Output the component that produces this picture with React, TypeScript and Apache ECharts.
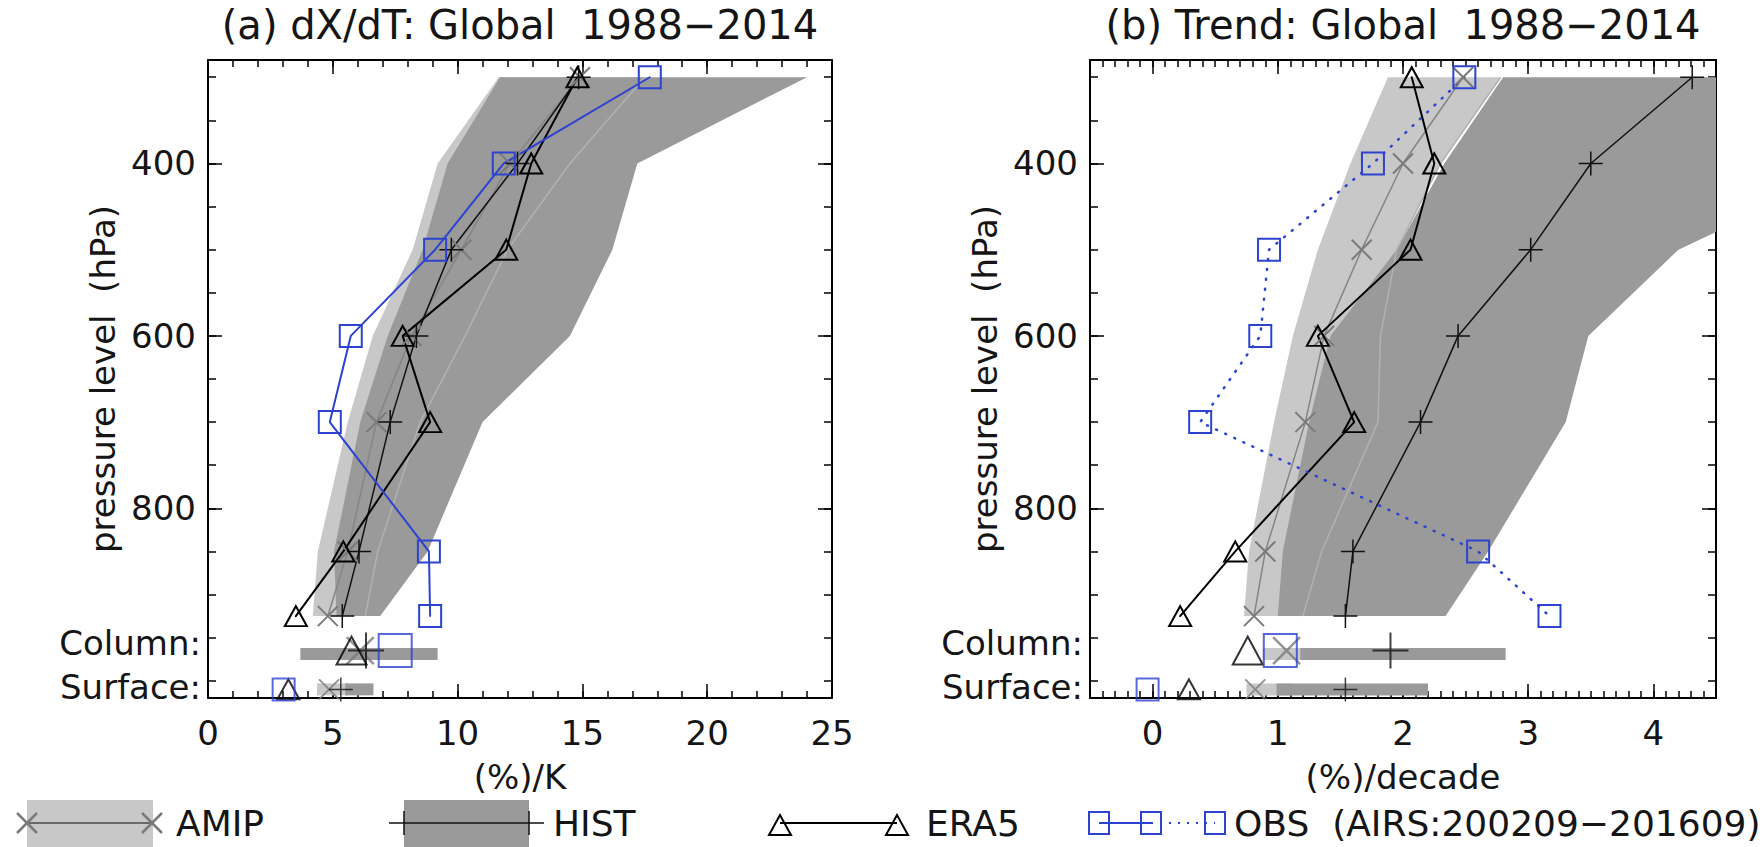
import React, { useEffect, useRef } from "react";
import * as echarts from "echarts";

// ---------- data ----------
const levels = [300, 400, 500, 600, 700, 850, 925];
const columnLevel = 965;
const surfaceLevel = 1010;
const barColumnLevel = 969;
const barSurfaceLevel = 1010;

const yMin = 280;
const yMax = 1020;
const yMinorTicks = [300, 350, 400, 450, 500, 550, 600, 650, 700, 750, 800, 850, 900, 950, 1000];
const yLabelTicks = [400, 600, 800];

const aXMajor = [0, 5, 10, 15, 20, 25];
const aXMinor = [0, 1, 2, 3, 4, 5, 6, 7, 8, 9, 10, 11, 12, 13, 14, 15, 16, 17, 18, 19, 20, 21, 22, 23, 24, 25];
const bXMajor = [0, 1, 2, 3, 4];
const bXMinor: number[] = [];
for (let i = -5; i <= 45; i++) bXMinor.push(Math.round(i) / 10);

// panel (a): dX/dT  (%)/K
const aAmip = [14.9, 12.1, 10.15, 8.15, 6.75, 5.6, 4.8];
const aHist = [14.85, 12.4, 9.75, 8.35, 7.3, 6.05, 5.38];
const aEra5 = [14.8, 12.95, 11.95, 7.8, 8.9, 5.42, 3.52];
const aObs = [17.7, 11.85, 9.1, 5.72, 4.88, 8.85, 8.9];
const aColumn = { amip: 6.1, hist: 6.33, era5: 5.75, obs: 7.5 };
const aSurface = { amip: 4.85, hist: 5.32, era5: 3.22, obs: 3.03 };
const aAmipLow = [11.65, 9.2, 8.2, 6.6, 5.6, 4.4, 4.2];
const aAmipHigh = [17.5, 14.5, 12.0, 10.3, 8.5, 6.8, 6.3];
const aHistLow = [11.7, 9.6, 8.6, 7.2, 6.1, 5.05, 5.15];
const aHistHigh = [24.0, 17.2, 16.2, 14.5, 11.0, 8.8, 6.9];
const aAmipBarColumn = [4.3, 7.6];
const aHistBarColumn = [3.7, 9.2];
const aAmipBarSurface = [4.37, 5.6];
const aHistBarSurface = [5.5, 6.63];

// panel (b): trend  (%)/decade
const bAmip = [2.48, 2.0, 1.67, 1.37, 1.22, 0.9, 0.81];
const bHist = [4.31, 3.5, 3.02, 2.44, 2.14, 1.6, 1.54];
const bEra5 = [2.07, 2.25, 2.06, 1.32, 1.61, 0.66, 0.22];
const bObs = [2.49, 1.76, 0.93, 0.86, 0.38, 2.6, 3.17];
const bColumn = { amip: 1.07, hist: 1.9, era5: 0.76, obs: 1.02 };
const bSurface = { amip: 0.82, hist: 1.54, era5: 0.29, obs: -0.04 };
const bAmipLow = [1.88, 1.58, 1.32, 1.12, 0.97, 0.77, 0.73];
const bAmipHigh = [2.78, 2.3, 1.95, 1.82, 1.8, 1.35, 1.2];
const bHistLow = [2.8, 2.33, 1.95, 1.42, 1.25, 1.04, 1.0];
const bHistHigh = [6.5, 5.67, 4.2, 3.48, 3.3, 2.68, 2.34];
const bAmipBarColumn = [0.88, 1.4];
const bHistBarColumn = [1.18, 2.82];
const bAmipBarSurface = [0.75, 1.1];
const bHistBarSurface = [0.99, 2.2];

// ---------- styles ----------
const FONT = "'DejaVu Sans ExtraLight', 'DejaVu Sans', sans-serif";
const TEXT = "#151515";
const LIGHT = "#c8c8c8";
const DARK = "#9a9a9a";
const EDGE = "#b2b2b2";
const AMIP_GRAY = "#7a7a7a";
const BLUE = "#2d43cf";
const SYM_X = "path://M0,0L10,10M10,0L0,10";
const SYM_PLUS = "path://M5,0L5,10M0,5L10,5";

function xAxis(gridIndex: number, min: number, max: number, pos: string, ticks: number[], len: number, labels: number[] | null, line: boolean, name = "") {
  return {
    type: "value", gridIndex, min, max, position: pos,
    axisLine: { show: line, onZero: false, lineStyle: { color: "#000", width: 2 } },
    axisTick: { show: true, inside: true, length: len, customValues: ticks, lineStyle: { color: "#000", width: 1.5 } },
    axisLabel: labels ? { show: true, customValues: labels, fontSize: 34, fontFamily: FONT, color: TEXT, margin: 18 } : { show: false },
    splitLine: { show: false }, minorTick: { show: false },
    name, nameLocation: "middle", nameGap: 62, nameMoveOverlap: false,
    nameTextStyle: { fontSize: 34, fontFamily: FONT, color: TEXT },
  };
}
function yAxis(gridIndex: number, pos: string, ticks: number[], len: number, labels: number[] | null, line: boolean, name = "") {
  return {
    type: "value", gridIndex, min: yMin, max: yMax, inverse: true, position: pos,
    axisLine: { show: line, onZero: false, lineStyle: { color: "#000", width: 2 } },
    axisTick: { show: true, inside: true, length: len, customValues: ticks, lineStyle: { color: "#000", width: 1.5 } },
    axisLabel: labels ? { show: true, customValues: labels, fontSize: 34, fontFamily: FONT, color: TEXT, margin: 12 } : { show: false },
    splitLine: { show: false }, minorTick: { show: false },
    name, nameLocation: "middle", nameGap: 88, nameRotate: 90, nameMoveOverlap: false,
    nameTextStyle: { fontSize: 34, fontFamily: FONT, color: TEXT },
  };
}

function bandSeries(lo: number[], hi: number[], fill: string, xi: number, yi: number) {
  return {
    type: "custom", xAxisIndex: xi, yAxisIndex: yi, clip: true, silent: true,
    data: [[lo[0], levels[0]]],
    renderItem: (_p: any, api: any) => {
      const pts: number[][] = [];
      levels.forEach((p, i) => pts.push(api.coord([lo[i], p])));
      for (let i = levels.length - 1; i >= 0; i--) pts.push(api.coord([hi[i], levels[i]]));
      return { type: "polygon", shape: { points: pts }, style: { fill } };
    },
  };
}
function edgeSeries(vals: number[], xi: number, yi: number) {
  return {
    type: "line", xAxisIndex: xi, yAxisIndex: yi, silent: true, showSymbol: false, symbol: "none",
    data: vals.map((v, i) => [v, levels[i]]), lineStyle: { color: EDGE, width: 1.5 },
  };
}
function barSeries(range: number[], p: number, fill: string, xi: number, yi: number) {
  return {
    type: "custom", xAxisIndex: xi, yAxisIndex: yi, clip: true, silent: true,
    encode: { x: [0, 1], y: 2 },
    data: [[range[0], range[1], p]],
    renderItem: (_p: any, api: any) => {
      const a = api.coord([api.value(0), api.value(2)]);
      const b = api.coord([api.value(1), api.value(2)]);
      return { type: "rect", shape: { x: a[0], y: a[1] - 6, width: b[0] - a[0], height: 12 }, style: { fill } };
    },
  };
}
function profile(vals: number[], color: string, width: number, symbol: string, size: any, symColor: string, symWidth: number, xi: number, yi: number, dash: any = "solid") {
  return {
    type: "line", xAxisIndex: xi, yAxisIndex: yi, silent: true,
    data: vals.map((v, i) => [v, levels[i]]),
    symbol, symbolSize: size, showSymbol: true,
    lineStyle: { color, width, type: dash, cap: "round" },
    itemStyle: { color: "transparent", borderColor: symColor, borderWidth: symWidth },
  };
}
function point(x: number, p: number, symbol: string, size: any, color: string, width: number, xi: number, yi: number) {
  return {
    type: "scatter", xAxisIndex: xi, yAxisIndex: yi, silent: true,
    data: [[x, p]], symbol, symbolSize: size,
    itemStyle: { color: "transparent", borderColor: color, borderWidth: width },
  };
}

function panelSeries(k: number, d: any) {
  const xi = k * 4, yi = k * 4;
  return [
    bandSeries(d.amipLow, d.amipHigh, LIGHT, xi, yi),
    bandSeries(d.histLow, d.histHigh, DARK, xi, yi),
    edgeSeries(d.amipHigh, xi, yi),
    barSeries(d.amipBarColumn, barColumnLevel, LIGHT, xi, yi),
    barSeries(d.histBarColumn, barColumnLevel, DARK, xi, yi),
    barSeries(d.amipBarSurface, barSurfaceLevel, LIGHT, xi, yi),
    barSeries(d.histBarSurface, barSurfaceLevel, DARK, xi, yi),
    profile(d.amip, "#858585", 1.5, SYM_X, 20, AMIP_GRAY, 2, xi, yi),
    profile(d.hist, "#111", 1.5, SYM_PLUS, 24, "#111", 1.5, xi, yi),
    profile(d.era5, "#000", 2, "triangle", [22, 20], "#000", 2, xi, yi),
    profile(d.obs, BLUE, k === 0 ? 2 : 2.5, "rect", 22, BLUE, 2, xi, yi, k === 0 ? "solid" : [1, 9]),
    point(d.column.amip, columnLevel, SYM_X, 27, AMIP_GRAY, 2.5, xi, yi),
    point(d.column.hist, columnLevel, SYM_PLUS, 36, "#111", 2, xi, yi),
    point(d.column.era5, columnLevel, "triangle", [30, 28], "#000", 2, xi, yi),
    point(d.column.obs, columnLevel, "rect", 33, BLUE, 2, xi, yi),
    point(d.surface.amip, surfaceLevel, SYM_X, 20, AMIP_GRAY, 2, xi, yi),
    point(d.surface.hist, surfaceLevel, SYM_PLUS, 24, "#111", 1.5, xi, yi),
    point(d.surface.era5, surfaceLevel, "triangle", [22, 20], "#000", 2, xi, yi),
    point(d.surface.obs, surfaceLevel, "rect", 22, BLUE, 2, xi, yi),
  ];
}

function txt(text: string, x: number, y: number, size: number, align = "left") {
  return {
    type: "text", silent: true,
    style: { text, x, y, fontSize: size, fontFamily: FONT, fill: TEXT, align, verticalAlign: "middle", textAlign: align, textVerticalAlign: "middle" },
  };
}
function ln(x1: number, y1: number, x2: number, y2: number, stroke: string, w: number, dash?: number[]) {
  return { type: "line", silent: true, shape: { x1, y1, x2, y2 }, style: { stroke, lineWidth: w, lineDash: dash } };
}
function xGlyph(x: number, y: number, r: number, c: string) {
  return [ln(x - r, y - r, x + r, y + r, c, 2.5), ln(x - r, y + r, x + r, y - r, c, 2.5)];
}
function tri(x: number, y: number) {
  return { type: "polygon", silent: true, shape: { points: [[x, y - 11], [x - 11, y + 9], [x + 11, y + 9]] }, style: { fill: "none", stroke: "#000", lineWidth: 2 } };
}
function sq(x: number, y: number) {
  return { type: "rect", silent: true, shape: { x: x - 10, y: y - 11, width: 20, height: 22 }, style: { fill: "none", stroke: BLUE, lineWidth: 2 } };
}

function buildOption() {
  const LY = 823;
  const graphics: any[] = [
    // side labels
    txt("Column:", 201, 643, 34, "right"),
    txt("Surface:", 201, 687, 34, "right"),
    txt("Column:", 1083, 643, 34, "right"),
    txt("Surface:", 1083, 687, 34, "right"),
    // legend AMIP
    { type: "rect", silent: true, shape: { x: 27, y: 800, width: 126, height: 47 }, style: { fill: LIGHT } },
    ln(27, LY, 152, LY, "#4a4a4a", 1.5),
    ...xGlyph(27, LY, 10, AMIP_GRAY),
    ...xGlyph(152, LY, 10, AMIP_GRAY),
    txt("AMIP", 176, LY, 36),
    // legend HIST
    { type: "rect", silent: true, shape: { x: 404, y: 800, width: 125, height: 47 }, style: { fill: DARK } },
    ln(389, LY, 544, LY, "#111", 1.5),
    ln(404, LY - 12, 404, LY + 12, "#111", 1.5),
    ln(529, LY - 12, 529, LY + 12, "#111", 1.5),
    txt("HIST", 553, LY, 36),
    // legend ERA5
    ln(780, LY, 897, LY, "#000", 2),
    tri(780, LY + 3),
    tri(897, LY + 3),
    txt("ERA5", 926, LY, 36),
    // legend OBS
    ln(1099, LY, 1151, LY, BLUE, 2),
    ln(1151, LY, 1215, LY, BLUE, 2, [2, 7]),
    sq(1099, LY), sq(1151, LY), sq(1215, LY),
    txt("OBS  (AIRS:200209\u2212201609)", 1234, LY, 36),
  ];

  const dA = {
    amip: aAmip, hist: aHist, era5: aEra5, obs: aObs, column: aColumn, surface: aSurface,
    amipLow: aAmipLow, amipHigh: aAmipHigh, histLow: aHistLow, histHigh: aHistHigh,
    amipBarColumn: aAmipBarColumn, histBarColumn: aHistBarColumn, amipBarSurface: aAmipBarSurface, histBarSurface: aHistBarSurface,
  };
  const dB = {
    amip: bAmip, hist: bHist, era5: bEra5, obs: bObs, column: bColumn, surface: bSurface,
    amipLow: bAmipLow, amipHigh: bAmipHigh, histLow: bHistLow, histHigh: bHistHigh,
    amipBarColumn: bAmipBarColumn, histBarColumn: bHistBarColumn, amipBarSurface: bAmipBarSurface, histBarSurface: bHistBarSurface,
  };

  return {
    animation: false,
    backgroundColor: "#fff",
    textStyle: { fontFamily: FONT },
    title: [
      { text: "(a) dX/dT: Global  1988\u22122014", left: 520, top: 5, textAlign: "center", padding: 0, textStyle: { fontSize: 40, fontWeight: "normal", fontFamily: FONT, color: TEXT } },
      { text: "(b) Trend: Global  1988\u22122014", left: 1403, top: 5, textAlign: "center", padding: 0, textStyle: { fontSize: 40, fontWeight: "normal", fontFamily: FONT, color: TEXT } },
    ],
    grid: [
      { left: 208, top: 60, width: 624, height: 638, containLabel: false, outerBoundsMode: "none" },
      { left: 1090, top: 60, width: 626, height: 638, containLabel: false, outerBoundsMode: "none" },
    ],
    xAxis: [
      xAxis(0, 0, 25, "bottom", aXMajor, 14, aXMajor, true, "(%)/K"),
      xAxis(0, 0, 25, "bottom", aXMinor, 7, null, false),
      xAxis(0, 0, 25, "top", aXMajor, 14, null, true),
      xAxis(0, 0, 25, "top", aXMinor, 7, null, false),
      xAxis(1, -0.5, 4.5, "bottom", bXMajor, 14, bXMajor, true, "(%)/decade"),
      xAxis(1, -0.5, 4.5, "bottom", bXMinor, 7, null, false),
      xAxis(1, -0.5, 4.5, "top", bXMajor, 14, null, true),
      xAxis(1, -0.5, 4.5, "top", bXMinor, 7, null, false),
    ],
    yAxis: [
      yAxis(0, "left", yLabelTicks, 14, yLabelTicks, true, "pressure level  (hPa)"),
      yAxis(0, "left", yMinorTicks, 8, null, false),
      yAxis(0, "right", yLabelTicks, 14, null, true),
      yAxis(0, "right", yMinorTicks, 8, null, false),
      yAxis(1, "left", yLabelTicks, 14, yLabelTicks, true, "pressure level  (hPa)"),
      yAxis(1, "left", yMinorTicks, 8, null, false),
      yAxis(1, "right", yLabelTicks, 14, null, true),
      yAxis(1, "right", yMinorTicks, 8, null, false),
    ],
    series: [...panelSeries(0, dA), ...panelSeries(1, dB)],
    graphic: graphics,
  };
}

export default function App() {
  const ref = useRef<HTMLDivElement>(null);
  useEffect(() => {
    const chart = echarts.init(ref.current as HTMLDivElement, null, { renderer: "svg", width: 1760, height: 847 });
    chart.setOption(buildOption() as any);
    return () => chart.dispose();
  }, []);
  return <div ref={ref} style={{ position: "absolute", left: 0, top: 0, width: 1760, height: 847, background: "#fff" }} />;
}
